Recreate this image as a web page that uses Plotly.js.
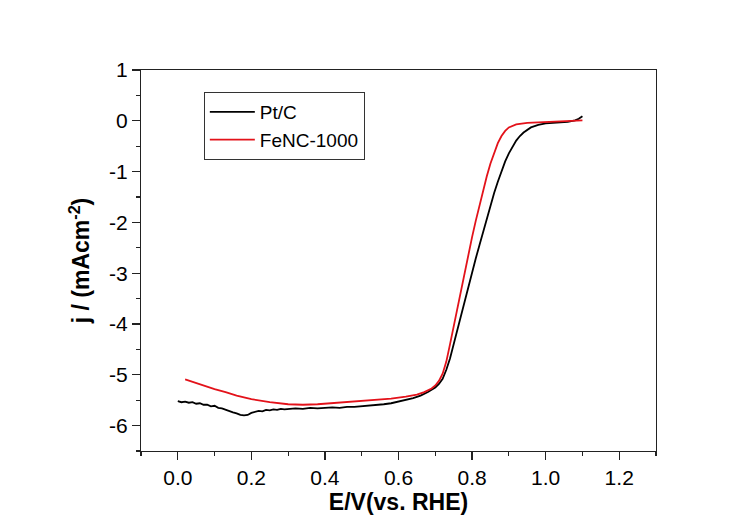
<!DOCTYPE html>
<html>
<head>
<meta charset="utf-8">
<script src="https://cdn.plot.ly/plotly-3.0.1.min.js"></script>
<style>
  html, body { margin: 0; padding: 0; background: #fff; }
  #chart { width: 751px; height: 522px; }
</style>
</head>
<body>
<div id="chart"></div>
<script>
// Pt/C (black)
const ptcE = [0.00, 0.01, 0.02, 0.03, 0.04, 0.05, 0.06, 0.07, 0.08, 0.09, 0.10, 0.11, 0.12, 0.13, 0.14, 0.15, 0.16, 0.17, 0.18, 0.19, 0.20, 0.21, 0.22, 0.23, 0.24, 0.25, 0.26, 0.27, 0.28, 0.29, 0.30, 0.32, 0.34, 0.36, 0.38, 0.40, 0.42, 0.44, 0.46, 0.48, 0.50, 0.52, 0.54, 0.56, 0.58, 0.60, 0.62, 0.64, 0.66, 0.68, 0.70, 0.71, 0.72, 0.73, 0.74, 0.75, 0.76, 0.77, 0.78, 0.79, 0.80, 0.81, 0.82, 0.83, 0.84, 0.85, 0.86, 0.87, 0.88, 0.89, 0.90, 0.91, 0.92, 0.93, 0.94, 0.96, 0.98, 1.00, 1.03, 1.06, 1.08, 1.09, 1.10];
const ptcJ = [-5.52, -5.54, -5.53, -5.55, -5.54, -5.57, -5.56, -5.59, -5.59, -5.62, -5.61, -5.65, -5.66, -5.69, -5.71, -5.74, -5.76, -5.79, -5.80, -5.79, -5.75, -5.73, -5.71, -5.72, -5.69, -5.70, -5.68, -5.69, -5.67, -5.68, -5.67, -5.66, -5.67, -5.65, -5.66, -5.65, -5.64, -5.65, -5.63, -5.63, -5.62, -5.61, -5.60, -5.58, -5.56, -5.53, -5.50, -5.46, -5.41, -5.34, -5.25, -5.18, -5.08, -4.90, -4.68, -4.40, -4.11, -3.81, -3.51, -3.24, -2.97, -2.71, -2.45, -2.18, -1.91, -1.66, -1.42, -1.20, -0.99, -0.80, -0.64, -0.50, -0.39, -0.30, -0.23, -0.13, -0.08, -0.05, -0.03, -0.02, 0.01, 0.04, 0.09];

// FeNC-1000 (red)
const fencE = [0.02, 0.04, 0.06, 0.08, 0.10, 0.13, 0.16, 0.20, 0.25, 0.30, 0.34, 0.38, 0.42, 0.46, 0.50, 0.54, 0.58, 0.62, 0.65, 0.67, 0.69, 0.70, 0.71, 0.72, 0.73, 0.74, 0.75, 0.76, 0.77, 0.78, 0.79, 0.80, 0.81, 0.82, 0.83, 0.84, 0.85, 0.86, 0.87, 0.88, 0.89, 0.90, 0.92, 0.95, 1.00, 1.05, 1.10];
const fencJ = [-5.09, -5.14, -5.19, -5.24, -5.28, -5.34, -5.41, -5.48, -5.54, -5.58, -5.59, -5.58, -5.56, -5.54, -5.52, -5.50, -5.47, -5.43, -5.39, -5.34, -5.27, -5.21, -5.12, -4.98, -4.74, -4.40, -4.04, -3.67, -3.31, -2.96, -2.62, -2.29, -1.97, -1.66, -1.37, -1.09, -0.84, -0.62, -0.44, -0.30, -0.20, -0.13, -0.07, -0.04, -0.02, -0.01, 0.01];

const seriesNames = ["Pt/C", "FeNC-1000"];
const xTickVals = [0.0, 0.2, 0.4, 0.6, 0.8, 1.0, 1.2];
const xTickText = ["0.0", "0.2", "0.4", "0.6", "0.8", "1.0", "1.2"];
const yTickVals = [1, 0, -1, -2, -3, -4, -5, -6];
const yTickText = ["1", "0", "-1", "-2", "-3", "-4", "-5", "-6"];

const font = "Liberation Sans, Arial, sans-serif";

const traces = [
  { x: ptcE, y: ptcJ, name: seriesNames[0], type: "scatter", mode: "lines",
    line: { color: "#000000", width: 1.8 } },
  { x: fencE, y: fencJ, name: seriesNames[1], type: "scatter", mode: "lines",
    line: { color: "#e3121a", width: 1.8 } }
];

const layout = {
  width: 751, height: 522,
  margin: { l: 141, r: 95, t: 70, b: 71 },
  paper_bgcolor: "#ffffff", plot_bgcolor: "#ffffff",
  font: { family: font, color: "#000" },
  showlegend: true,
  legend: {
    x: 0.122, y: 0.942, xanchor: "left", yanchor: "top",
    bordercolor: "#333", borderwidth: 1, bgcolor: "rgba(255,255,255,0)",
    font: { size: 19, family: font, color: "#000" },
    itemwidth: 45,
    tracegroupgap: 0
  },
  xaxis: {
    range: [-0.1, 1.3], showgrid: false, zeroline: false,
    showline: true, linecolor: "#222", linewidth: 1.2, mirror: true,
    ticks: "outside", ticklen: 8, tickwidth: 1.2, tickcolor: "#222",
    tickvals: xTickVals, ticktext: xTickText,
    tickfont: { size: 21, family: font },
    minor: { ticks: "outside", ticklen: 4, tickwidth: 1.2, tickcolor: "#222", dtick: 0.1, tick0: -0.1, showgrid: false },
    title: { text: "<b>E/V(vs. RHE)</b>", font: { size: 23, family: font }, standoff: 0 }
  },
  yaxis: {
    range: [-6.5, 1], showgrid: false, zeroline: false,
    showline: true, linecolor: "#222", linewidth: 1.2, mirror: true,
    ticks: "outside", ticklen: 8, tickwidth: 1.2, tickcolor: "#222",
    tickvals: yTickVals, ticktext: yTickText,
    tickfont: { size: 21, family: font },
    minor: { ticks: "outside", ticklen: 4, tickwidth: 1.2, tickcolor: "#222", dtick: 0.5, tick0: -6.5, showgrid: false },
    title: { text: "<b>j / (mAcm<sup>-2</sup>)</b>", font: { size: 23, family: font }, standoff: 12 }
  }
};

Plotly.newPlot("chart", traces, layout, { staticPlot: true, displayModeBar: false });
</script>
</body>
</html>
